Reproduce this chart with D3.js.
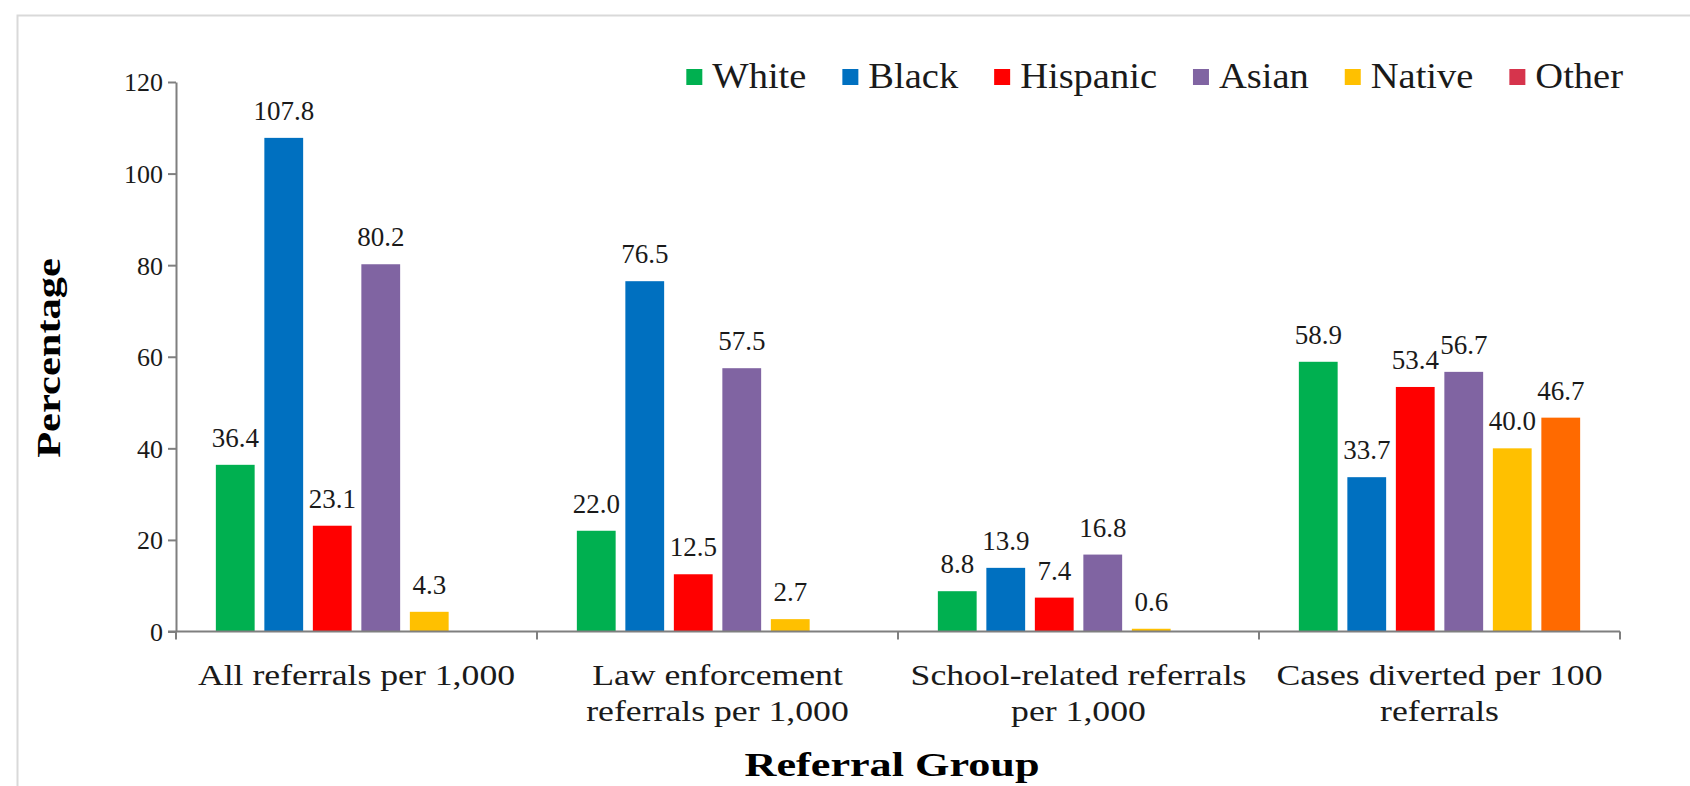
<!DOCTYPE html>
<html>
<head>
<meta charset="utf-8">
<script src="https://cdn.jsdelivr.net/npm/d3@7"></script>
<style>
  html, body { margin: 0; padding: 0; background: #ffffff; }
  svg { display: block; }
  text { font-family: "Liberation Serif", "Times New Roman", serif; fill: #1a1a1a; }
</style>
</head>
<body>
<svg id="chart" width="1690" height="786"></svg>
<script>
// Referral groups (x categories) and race/ethnicity series
const groups = [
  ["All referrals per 1,000"],
  ["Law enforcement", "referrals per 1,000"],
  ["School-related referrals", "per 1,000"],
  ["Cases diverted per 100", "referrals"]
];
const series = ["White", "Black", "Hispanic", "Asian", "Native", "Other"];

// Values per series, one entry per referral group (null = not reported)
const white    = [36.4, 22.0, 8.8, 58.9];
const black    = [107.8, 76.5, 13.9, 33.7];
const hispanic = [23.1, 12.5, 7.4, 53.4];
const asian    = [80.2, 57.5, 16.8, 56.7];
const native   = [4.3, 2.7, 0.6, 40.0];
const other    = [null, null, null, 46.7];

const yTicks = [0, 20, 40, 60, 80, 100, 120];

const barColors    = ["#00b050", "#0070c0", "#ff0000", "#8064a2", "#ffc000", "#ff6a00"];
const legendColors = ["#00b050", "#0070c0", "#ff0000", "#8064a2", "#ffc000", "#d6344c"];

const valuesBySeries = [white, black, hispanic, asian, native, other];

const svg = d3.select("#chart");

// light frame around the chart area
svg.append("rect")
  .attr("x", 17.5).attr("y", 15.5)
  .attr("width", 1800).attr("height", 900)
  .attr("fill", "none")
  .attr("stroke", "#d9d9d9")
  .attr("stroke-width", 2);

const plot = { left: 176, right: 1620, top: 82, bottom: 631.5 };

const y = d3.scaleLinear().domain([0, 120]).range([plot.bottom, plot.top]);
const x0 = d3.scaleBand().domain(d3.range(groups.length)).range([plot.left, plot.right]).padding(0);
const x1 = d3.scaleBand().domain(series)
  .range([35, x0.bandwidth() - 35])
  .paddingInner(0.2).paddingOuter(0.1);

// text drawn with a horizontal stretch (the chart's typeface is set wide)
function wideText(parent, x, yPos, str, size, sx, opts = {}) {
  const g = parent.append("g")
    .attr("transform", `translate(${x},${yPos})${opts.rotate ? ` rotate(${opts.rotate})` : ""} scale(${sx},1)`);
  const t = g.append("text")
    .attr("x", 0).attr("y", 0)
    .attr("font-size", size)
    .attr("text-anchor", opts.anchor || "start")
    .text(str);
  if (opts.bold) t.attr("font-weight", "bold").style("fill", "#000");
  return { g, t };
}

// bars
const rows = [];
groups.forEach((g, gi) => {
  series.forEach((s, si) => {
    const v = valuesBySeries[si][gi];
    if (v !== null) rows.push({ gi, s, si, v });
  });
});

svg.append("g").selectAll("rect")
  .data(rows)
  .join("rect")
  .attr("x", d => x0(d.gi) + x1(d.s))
  .attr("y", d => y(d.v))
  .attr("width", x1.bandwidth())
  .attr("height", d => y(0) - y(d.v))
  .attr("fill", d => barColors[d.si]);

// value labels
svg.append("g").selectAll("text")
  .data(rows)
  .join("text")
  .attr("x", d => x0(d.gi) + x1(d.s) + x1.bandwidth() / 2)
  .attr("y", d => y(d.v) - 18)
  .attr("text-anchor", "middle")
  .attr("font-size", 27)
  .text(d => d.v.toFixed(1));

// y axis
const yAxis = d3.axisLeft(y).tickValues(yTicks).tickSize(8).tickSizeOuter(0).tickPadding(5);
const yG = svg.append("g").attr("transform", `translate(${plot.left},0)`).call(yAxis);
yG.attr("font-family", null).attr("font-size", null);
yG.select(".domain").attr("stroke", "#7f7f7f").attr("stroke-width", 2);
yG.selectAll(".tick line").attr("stroke", "#7f7f7f").attr("stroke-width", 2);
yG.selectAll(".tick text").attr("font-size", 26).attr("fill", null).attr("dy", "0.34em");

// x axis with tick marks at group boundaries
const xLine = svg.append("g");
xLine.append("line")
  .attr("x1", plot.left - 8).attr("x2", plot.right)
  .attr("y1", y(0)).attr("y2", y(0))
  .attr("stroke", "#7f7f7f").attr("stroke-width", 2);
xLine.selectAll("line.sep")
  .data(d3.range(groups.length + 1))
  .join("line")
  .attr("class", "sep")
  .attr("x1", i => i < groups.length ? x0(i) : plot.right)
  .attr("x2", i => i < groups.length ? x0(i) : plot.right)
  .attr("y1", y(0)).attr("y2", y(0) + 8)
  .attr("stroke", "#7f7f7f").attr("stroke-width", 2);

// category labels
const catG = svg.append("g");
groups.forEach((lines, gi) => {
  lines.forEach((ln, li) => {
    wideText(catG, x0(gi) + x0.bandwidth() / 2, 685 + li * 36, ln, 30, 1.19, { anchor: "middle" });
  });
});

// axis titles
wideText(svg, 60, 358, "Percentage", 34, 1.25, { anchor: "middle", rotate: -90, bold: true });
wideText(svg, 892, 776, "Referral Group", 34, 1.3, { anchor: "middle", bold: true });

// legend, right-aligned at the top of the plot
const legendY = 77;
const legendSize = 35, legendSx = 1.1;
const boxSize = 16, boxGap = 10, itemGap = 36;
const legend = svg.append("g");
const items = series.map((s, i) => {
  const g = legend.append("g");
  g.append("rect")
    .attr("width", boxSize).attr("height", boxSize)
    .attr("y", legendY - boxSize / 2)
    .attr("fill", legendColors[i]);
  const lbl = wideText(g, boxSize + boxGap, legendY + 11, s, legendSize, legendSx);
  const w = lbl.t.node().getComputedTextLength() * legendSx;
  return { g, w: boxSize + boxGap + w };
});
const total = d3.sum(items, d => d.w) + itemGap * (items.length - 1);
let cursor = 1623 - total;
items.forEach(it => {
  it.g.attr("transform", `translate(${cursor},0)`);
  cursor += it.w + itemGap;
});
</script>
</body>
</html>
